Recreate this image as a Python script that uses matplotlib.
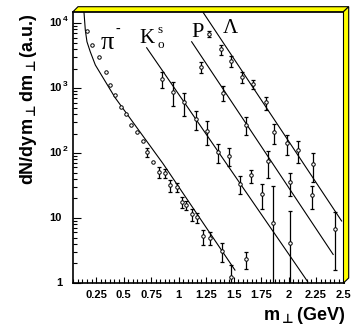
import numpy as np
import matplotlib.pyplot as plt
from matplotlib.patches import Polygon
from matplotlib.ticker import FixedLocator, MultipleLocator, LogLocator, NullFormatter
from matplotlib.transforms import blended_transform_factory, offset_copy

W, H = 354, 328

# pi- spectrum
pion_m = [0.170, 0.215, 0.276, 0.340, 0.379, 0.422, 0.476, 0.522, 0.567, 0.619,
          0.674, 0.713, 0.770, 0.825, 0.874, 0.925, 0.983, 1.028, 1.067, 1.125,
          1.167, 1.225, 1.288, 1.397, 1.476, 1.610]
pion_v = [7540, 4550, 3010, 1795, 1122, 780, 516, 393, 273, 208,
          156, 103, 73, 52, 49, 31.8, 29.9, 17.6, 15.7, 11.4,
          10.2, 5.25, 5.0, 3.13, 1.22, 2.33]
pion_err = [0, 0, 0, 0, 0, 0, 0, 0, 0, 0,
            0, 15, 0, 10, 7, 7, 4.5, 3.4, 2.3, 2.5,
            1.8, 1.4, 1.1, 1.0, 0.64, 0.7]
pion_fit_m = [0.138, 0.140, 0.152, 0.167, 0.197, 0.243, 0.422, 0.858, 1.513]
pion_fit_v = [18000, 14600, 7810, 5170, 3630, 2270, 716, 69, 1.58]

# K0s
kaon_m = [0.852, 0.949, 1.052, 1.155, 1.255, 1.355, 1.458, 1.558, 1.661, 1.761, 1.861, 2.013]
kaon_v = [1371, 885, 601, 334, 221, 105, 91.6, 33.7, 45.2, 23.7, 8.3, 4.1]
kaon_err = [380, 350, 230, 105, 86, 35, 29, 10, 10, 10, 23, 8.6]
kaon_fit_m = [0.710, 2.174]
kaon_fit_v = [4180, 1.05]

# protons
prot_m = [1.204, 1.276, 1.406, 1.613, 1.810, 2.013, 2.215, 2.419]
prot_v = [2117, 6855, 855, 273, 75.4, 35.7, 22.3, 6.9]
prot_err = [380, 700, 215, 82, 34, 14, 8.7, 5.3]
prot_fit_m = [1.119, 2.406]
prot_fit_v = [5170, 2.75]

# lambda
lam_m = [1.385, 1.476, 1.579, 1.679, 1.792, 1.870, 1.983, 2.083, 2.225]
lam_v = [3955, 2617, 1487, 1150, 601, 208, 141, 113, 68.3]
lam_err = [680, 520, 270, 185, 140, 70, 47, 43, 32]
lam_fit_m = [1.225, 2.483]
lam_fit_v = [14500, 9.0]

x_ticks = [0.25, 0.5, 0.75, 1.0, 1.25, 1.5, 1.75, 2.0, 2.25, 2.5]
x_ticklabels = ['0.25', '0.5', '0.75', '1', '1.25', '1.5', '1.75', '2', '2.25', '2.5']
y_ticks = [1, 10, 100, 1000, 10000]
y_base = ['1', '10', '10', '10', '10']
y_power = ['', '', '2', '3', '4']

plt.rcParams['font.family'] = 'Liberation Sans'
plt.rcParams['font.weight'] = 'bold'


def fx(x):
    return x / W


def fy(y):
    return 1 - y / H


fig = plt.figure(figsize=(W / 100, H / 100), dpi=100)
ax = fig.add_axes([fx(73), fy(283), (343.5 - 73) / W, (283 - 11.7) / H])
ax.set_yscale('log')
ax.set_xlim(0.04, 2.5)
ax.set_ylim(1, 1.5e4)
for s in ax.spines.values():
    s.set_linewidth(1.2)

# fits
for m, v in [(pion_fit_m, pion_fit_v), (kaon_fit_m, kaon_fit_v),
             (prot_fit_m, prot_fit_v), (lam_fit_m, lam_fit_v)]:
    ax.plot(m, v, color='k', lw=0.8)


def draw_points(m, v, err):
    m = np.asarray(m)
    v = np.asarray(v)
    err = np.asarray(err)
    has = err > 0
    ax.errorbar(m[has], v[has], yerr=err[has], fmt='none', ecolor='k',
                elinewidth=0.9, capsize=1.2, capthick=0.9)
    ax.plot(m, v, 'o', ms=2.5, mfc='white', mec='k', mew=0.7, zorder=3)


draw_points(pion_m, pion_v, pion_err)
draw_points(kaon_m, kaon_v, kaon_err)
draw_points(prot_m, prot_v, prot_err)
draw_points(lam_m, lam_v, lam_err)

# ticks
ax.xaxis.set_major_locator(FixedLocator(x_ticks))
ax.set_xticklabels(x_ticklabels, fontsize=8, fontweight='bold')
ax.xaxis.set_minor_locator(MultipleLocator(0.25 / 6))
ax.tick_params(axis='x', which='major', direction='in', length=4.3, width=0.8, pad=5)
ax.tick_params(axis='x', which='minor', direction='in', length=2.7, width=0.8)
ax.set_yticks(y_ticks)
ax.set_yticklabels([])
ax.yaxis.set_minor_locator(LogLocator(base=10, subs=np.arange(2, 10)))
ax.yaxis.set_minor_formatter(NullFormatter())
ax.tick_params(axis='y', which='major', direction='in', length=5.8, width=0.8)
ax.tick_params(axis='y', which='minor', direction='in', length=2.9, width=0.8)

ytrans = blended_transform_factory(fig.transFigure, ax.transData)
sup_trans = offset_copy(ytrans, fig=fig, x=0, y=2.5, units='points')
for val, base, power in zip(y_ticks, y_base, y_power):
    fig.text(fx(62), val, base, transform=ytrans, ha='right', va='center',
             fontsize=8, fontweight='bold')
    if power:
        fig.text(fx(63), val, power, transform=sup_trans, ha='left', va='center',
                 fontsize=6, fontweight='bold')

# axis titles
fig.text(fx(29), fy(13), r'dN/dym$_{\bot}$dm$_{\bot}$(a.u.)', rotation=90,
         ha='center', va='top', fontsize=13, fontweight='bold',
         math_fontfamily='dejavusans')
fig.text(fx(345), fy(305), r'm$_{\bot}$(GeV)', ha='right', va='top',
         fontsize=13, fontweight='bold', math_fontfamily='dejavusans')

# particle labels
serif = dict(family='Liberation Serif', fontweight='normal', ha='left', va='baseline')
fig.text(fx(101), fy(49), 'π', fontsize=19, **serif)
fig.text(fx(115.5), fy(33), '-', fontsize=10, **serif)
fig.text(fx(139.5), fy(43), 'K', fontsize=15, **serif)
fig.text(fx(157), fy(33.3), 's', fontsize=9.5, **serif)
fig.text(fx(157), fy(48.3), 'o', fontsize=9.5, **serif)
fig.text(fx(191), fy(36.7), 'P', fontsize=16, **serif)
fig.text(fx(222.5), fy(33.3), 'Λ', fontsize=15, **serif)

# yellow frame border on top and right
top_band = [(73, 11.7), (78, 6.7), (348.7, 6.7), (343.5, 11.7)]
right_band = [(343.5, 11.7), (348.7, 6.7), (348.7, 278), (343.5, 283)]
for band in (top_band, right_band):
    fig.add_artist(Polygon([(fx(x), fy(y)) for x, y in band], closed=True,
                           transform=fig.transFigure, facecolor='#ffff00',
                           edgecolor='k', lw=0.8))

fig.savefig('out.png', dpi=100)
